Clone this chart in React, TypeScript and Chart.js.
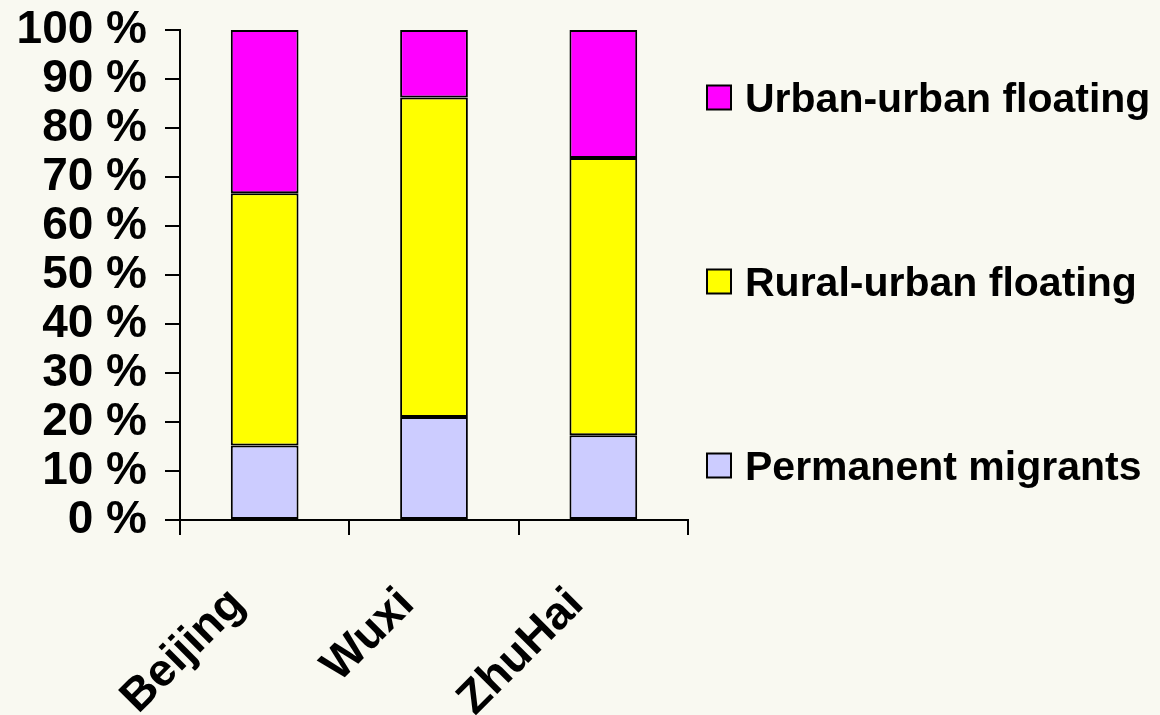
import React, { useEffect, useRef } from "react";
import { Chart, registerables } from "chart.js";

Chart.register(...registerables);

const categories = ["Beijing", "Wuxi", "ZhuHai"];
const permanentMigrants = [15.2, 21.0, 17.3];
const ruralUrbanFloating = [51.5, 65.2, 56.6];
const urbanUrbanFloating = [33.3, 13.8, 26.1];
const seriesLabels = ["Permanent migrants", "Rural-urban floating", "Urban-urban floating"];
const seriesColors = ["#CCCCFF", "#FFFF00", "#FF00FF"];
const yTicks = [0, 10, 20, 30, 40, 50, 60, 70, 80, 90, 100];

const FONT = "Arial, 'Liberation Sans', sans-serif";
const BG = "#F9F9F1";

export default function App() {
  const canvasRef = useRef<HTMLCanvasElement | null>(null);

  useEffect(() => {
    if (!canvasRef.current) return;
    const bgPlugin = {
      id: "bg",
      beforeDraw(chart: any) {
        const ctx = chart.ctx;
        ctx.save();
        ctx.fillStyle = BG;
        ctx.fillRect(0, 0, chart.width, chart.height);
        ctx.restore();
      },
    };
    const customPlugin = {
      id: "custom",
      afterDraw(chart: any) {
        const ctx = chart.ctx;
        const xs = chart.scales.x;
        ctx.save();
        // x labels rotated
        ctx.fillStyle = "#000";
        ctx.font = `bold 46px ${FONT}`;
        ctx.textAlign = "right";
        ctx.textBaseline = "alphabetic";
        categories.forEach((c, i) => {
          const px = xs.getPixelForValue(i);
          ctx.save();
          ctx.translate(px - 18, 606);
          ctx.rotate(-Math.PI / 4);
          ctx.fillText(c, 0, 0);
          ctx.restore();
        });
        // legend
        const items = [
          { label: seriesLabels[2], color: seriesColors[2], cy: 97.5 },
          { label: seriesLabels[1], color: seriesColors[1], cy: 281.5 },
          { label: seriesLabels[0], color: seriesColors[0], cy: 465.5 },
        ];
        ctx.font = `bold 41px ${FONT}`;
        ctx.textAlign = "left";
        ctx.textBaseline = "alphabetic";
        items.forEach((it) => {
          ctx.fillStyle = it.color;
          ctx.fillRect(707, it.cy - 12, 24, 24);
          ctx.strokeStyle = "#000";
          ctx.lineWidth = 2;
          ctx.strokeRect(707, it.cy - 12, 24, 24);
          ctx.fillStyle = "#000";
          ctx.fillText(it.label, 745, it.cy + 14.5);
        });
        ctx.restore();
      },
    };

    const chart = new Chart(canvasRef.current, {
      type: "bar",
      data: {
        labels: categories,
        datasets: [
          { label: seriesLabels[0], data: permanentMigrants, backgroundColor: seriesColors[0] },
          { label: seriesLabels[1], data: ruralUrbanFloating, backgroundColor: seriesColors[1] },
          { label: seriesLabels[2], data: urbanUrbanFloating, backgroundColor: seriesColors[2] },
        ].map((d) => ({
          ...d,
          borderColor: "#000",
          borderWidth: 2,
          borderSkipped: false,
          barPercentage: 0.4,
          categoryPercentage: 1,
        })),
      },
      options: {
        animation: false,
        responsive: false,
        devicePixelRatio: 1,
        layout: { padding: { top: 30, right: 472, left: 0, bottom: 0 } },
        plugins: { legend: { display: false }, tooltip: { enabled: false } },
        scales: {
          x: {
            stacked: true,
            border: { color: "#000", width: 2 },
            grid: {
              offset: true,
              drawOnChartArea: false,
              tickLength: 15,
              color: "#000",
              lineWidth: 2,
            },
            ticks: { display: false },
            afterFit(scale: any) {
              scale.height = 195;
              scale.paddingLeft = 0;
              scale.paddingRight = 0;
            },
          },
          y: {
            stacked: true,
            min: 0,
            max: 100,
            afterBuildTicks(scale: any) {
              scale.ticks = yTicks.map((v) => ({ value: v }));
            },
            border: { color: "#000", width: 2 },
            grid: {
              drawOnChartArea: false,
              tickLength: 15,
              color: "#000",
              lineWidth: 2,
            },
            ticks: {
              autoSkip: false,
              padding: 18,
              color: "#000",
              font: { family: FONT, size: 46, weight: "bold" },
              callback: (v: any) => `${v} %`,
            },
            afterFit(scale: any) {
              scale.width = 180;
              scale.paddingTop = 0;
              scale.paddingBottom = 0;
            },
          },
        },
      },
      plugins: [bgPlugin, customPlugin],
    } as any);
    return () => chart.destroy();
  }, []);

  return (
    <div style={{ position: "fixed", left: 0, top: 0, width: 1160, height: 715, background: BG }}>
      <canvas ref={canvasRef} width={1160} height={715} style={{ width: 1160, height: 715, display: "block" }} />
    </div>
  );
}
